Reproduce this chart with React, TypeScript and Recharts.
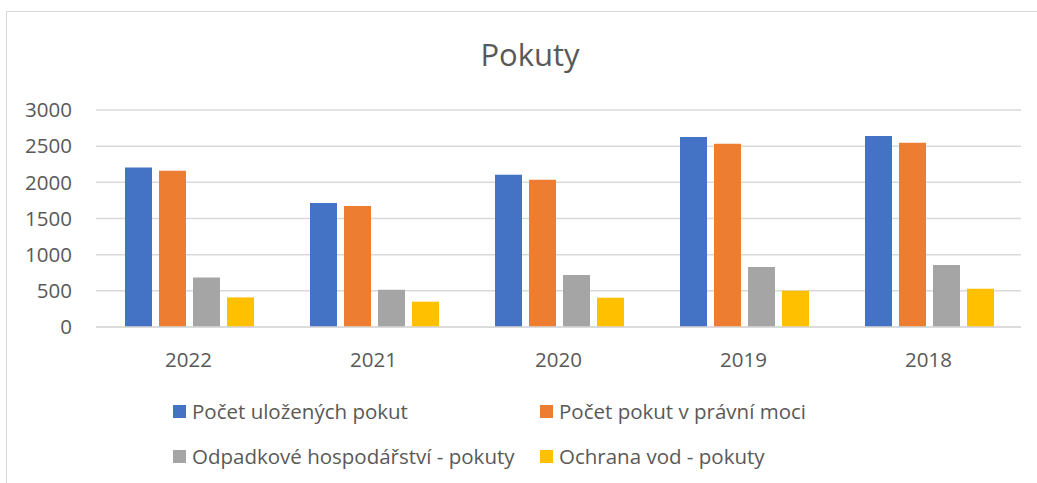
import { Bar, BarChart, CartesianGrid, XAxis, YAxis } from "recharts";

const years = ["2022", "2021", "2020", "2019", "2018"];
const ulozene = [2206, 1714, 2105, 2626, 2640];
const pravniMoc = [2160, 1672, 2036, 2533, 2547];
const odpady = [686, 515, 718, 829, 857];
const vody = [409, 350, 405, 502, 529];
const yTicks = [0, 500, 1000, 1500, 2000, 2500, 3000];

const series = [
  { key: "ulozene", name: "Počet uložených pokut", color: "#4472C4", values: ulozene },
  { key: "pravniMoc", name: "Počet pokut v právní moci", color: "#ED7D31", values: pravniMoc },
  { key: "odpady", name: "Odpadkové hospodářství - pokuty", color: "#A5A5A5", values: odpady },
  { key: "vody", name: "Ochrana vod - pokuty", color: "#FFC000", values: vody },
];

const data = years.map((year, i) => {
  const row: Record<string, string | number> = { year };
  series.forEach((s) => (row[s.key] = s.values[i]));
  return row;
});

const FONT = "'Open Sans', sans-serif";
const TEXT = "#595959";

export default function App() {
  return (
    <div
      style={{
        position: "absolute",
        left: 0,
        top: 0,
        width: 1037,
        height: 483,
        overflow: "hidden",
        background: "#fff",
        fontFamily: FONT,
      }}
    >
      <div
        style={{
          position: "absolute",
          left: 6,
          top: 11,
          width: 1060,
          height: 500,
          border: "1.5px solid #d9d9d9",
        }}
      />
      <div
        style={{
          position: "absolute",
          left: 330,
          width: 400,
          top: 33,
          textAlign: "center",
          fontSize: 31,
          color: TEXT,
        }}
      >
        Pokuty
      </div>
      <div style={{ position: "absolute", left: 0, top: 0 }}>
        <BarChart
          width={1037}
          height={483}
          data={data}
          margin={{ top: 110, right: 16, left: 0, bottom: 126 }}
          barCategoryGap={29}
          barGap={7}
        >
          <CartesianGrid vertical={false} stroke="#d9d9d9" strokeWidth={1.5} />
          <XAxis
            dataKey="year"
            height={30}
            axisLine={{ stroke: "#d9d9d9", strokeWidth: 1.5 }}
            tickLine={false}
            tickMargin={19}
            tick={{ fill: TEXT, fontSize: 20.5, fontFamily: FONT }}
          />
          <YAxis
            width={96}
            domain={[0, 3000]}
            ticks={yTicks}
            axisLine={false}
            tickLine={false}
            tickSize={0}
            tickMargin={24}
            tick={{ fill: TEXT, fontSize: 20.5, fontFamily: FONT }}
          />
          {series.map((s) => (
            <Bar key={s.key} dataKey={s.key} name={s.name} fill={s.color} isAnimationActive={false} />
          ))}
        </BarChart>
      </div>
      {series.map((s, i) => (
        <div
          key={s.key}
          style={{
            position: "absolute",
            left: i % 2 === 0 ? 173 : 540,
            top: i < 2 ? 397 : 442,
            display: "flex",
            alignItems: "center",
            fontSize: 20.5,
            color: TEXT,
            whiteSpace: "nowrap",
          }}
        >
          <span style={{ width: 13, height: 13, background: s.color, marginRight: 6, display: "inline-block" }} />
          {s.name}
        </div>
      ))}
    </div>
  );
}
